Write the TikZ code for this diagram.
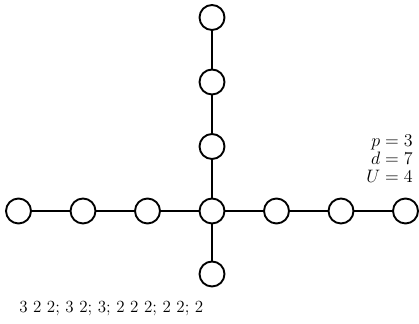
\documentclass[tikz,border=0pt]{standalone}
\usetikzlibrary{positioning}
\usepackage{amsmath}
\begin{document}
\begin{tikzpicture}[x=0.8pt,y=-0.8pt,font=\fontsize{13.6}{14.4}\selectfont,on grid,node distance=51.6pt,
  v/.style={draw,circle,line width=1.5pt,minimum size=20pt,inner sep=0pt,fill=white},
  e/.style={line width=2.3pt}]
\useasboundingbox (0,0) rectangle (419,324);
\node[v] (c) at (212,211) {};
\node[v,left=of c] (l1) {}; \node[v,left=of l1] (l2) {}; \node[v,left=of l2] (l3) {};
\node[v,right=of c] (r1) {}; \node[v,right=of r1] (r2) {}; \node[v,right=of r2] (r3) {};
\node[v,above=of c] (u1) {}; \node[v,above=of u1] (u2) {}; \node[v,above=of u2] (u3) {};
\node[v,below=50.4pt of c] (d1) {};
\draw[e] (l3)--(l2) (l2)--(l1) (l1)--(c) (c)--(r1) (r1)--(r2) (r2)--(r3);
\draw[e] (u3)--(u2) (u2)--(u1) (u1)--(c) (c)--(d1);
\node[anchor=north east,align=right,inner sep=0pt] (par) at (413,135) {$p=3$\\$d=7$\\$U=4$};
\node[anchor=base west,inner sep=0pt] (seq) at (19,313) {3 2 2; 3 2; 3; 2 2 2; 2 2; 2};
\end{tikzpicture}
\end{document}
